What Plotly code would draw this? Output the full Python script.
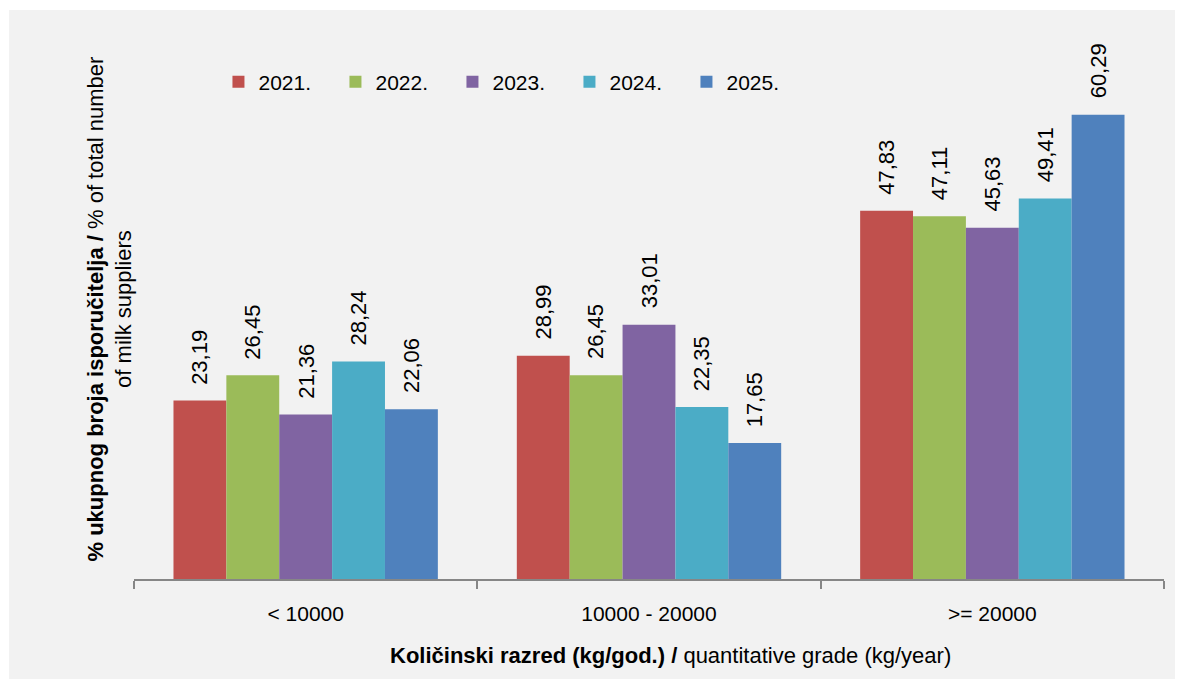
import plotly.graph_objects as go

# Data
categories = ["< 10000", "10000 - 20000", ">= 20000"]
years = ["2021.", "2022.", "2023.", "2024.", "2025."]
v2021 = [23.19, 28.99, 47.83]
v2022 = [26.45, 26.45, 47.11]
v2023 = [21.36, 33.01, 45.63]
v2024 = [28.24, 22.35, 49.41]
v2025 = [22.06, 17.65, 60.29]
series = [v2021, v2022, v2023, v2024, v2025]
colors = ["#C0504D", "#9BBB59", "#8064A2", "#4BACC6", "#4F81BD"]

FONT = "Liberation Sans, Arial, sans-serif"
BARGAP = 0.23
PLOT_W = 1030

fig = go.Figure()
for name, vals, col in zip(years, series, colors):
    fig.add_trace(go.Bar(
        x=categories,
        y=vals,
        name=name,
        marker=dict(color=col, line=dict(width=0)),
    ))

# value labels, rotated, sitting a bit above each bar
bar_px = PLOT_W / 3 * (1 - BARGAP) / len(series)
labels = []
for i, vals in enumerate(series):
    for cat, v in zip(categories, vals):
        labels.append(dict(
            x=cat, y=v, xref="x", yref="y",
            text=f"{v:.2f}".replace(".", ","),
            textangle=-90,
            xanchor="center", yanchor="bottom",
            xshift=(i - 2) * bar_px, yshift=14,
            showarrow=False,
            font=dict(size=22, family=FONT, color="black"),
        ))

fig.update_layout(
    width=1183,
    height=679,
    margin=dict(l=126, r=27, t=32, b=108),
    paper_bgcolor="white",
    plot_bgcolor="rgba(0,0,0,0)",
    font=dict(family=FONT, size=21, color="black"),
    barmode="group",
    bargap=BARGAP,
    bargroupgap=0,
    showlegend=True,
    legend=dict(
        orientation="h",
        x=0.082, xanchor="left",
        y=0.922, yanchor="middle",
        bgcolor="rgba(0,0,0,0)",
        font=dict(size=21, family=FONT),
        entrywidth=72,
        traceorder="normal",
    ),
    xaxis=dict(
        range=[-0.5, 2.5],
        showline=True, linecolor="#868686", linewidth=1.5,
        ticks="outside", ticklen=8, tickcolor="#868686", tickwidth=1.5,
        tickson="boundaries",
        tickfont=dict(size=21, family=FONT),
        ticklabelstandoff=15,
        showgrid=False, zeroline=False,
    ),
    yaxis=dict(
        range=[0, 70],
        showticklabels=False, showgrid=False, zeroline=False, showline=False,
        ticks="",
    ),
    shapes=[dict(
        type="rect", xref="paper", yref="paper", layer="below",
        x0=(1 - 126) / PLOT_W, x1=1.1, y0=-0.3, y1=(571 - 2) / 539,
        fillcolor="#F2F2F2", line=dict(width=0),
    )],
    annotations=labels + [
        dict(
            text="<b>Količinski razred (kg/god.) /</b> quantitative grade (kg/year)",
            xref="paper", yref="paper",
            x=(662 - 126) / PLOT_W, y=(571 - 647) / 539,
            xanchor="center", yanchor="middle",
            showarrow=False,
            font=dict(size=22, family=FONT, color="black"),
        ),
        dict(
            text="<b>% ukupnog broja isporučitelja /</b> % of total number<br>of milk suppliers",
            xref="paper", yref="paper",
            x=(101 - 126) / PLOT_W, y=0.5,
            xanchor="center", yanchor="middle",
            textangle=-90,
            showarrow=False,
            font=dict(size=22, family=FONT, color="black"),
        ),
    ],
)

fig.write_html("out.html")
